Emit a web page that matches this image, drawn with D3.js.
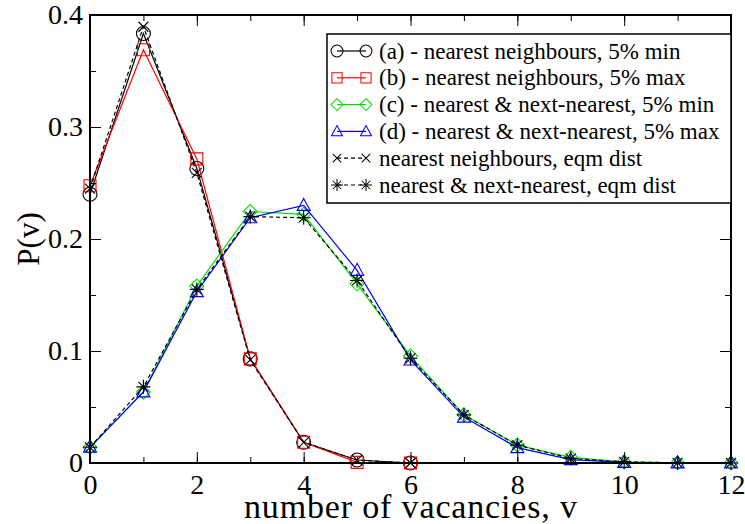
<!DOCTYPE html>
<html>
<head>
<script src="https://d3js.org/d3.v7.min.js"></script>
<style>
body { margin: 0; background: white; }
</style>
</head>
<body>
<svg id="chart" width="745" height="524"></svg>
<script>
// vacancy counts on the x axis
var vacNN = [0, 1, 2, 3, 4, 5, 6];
var vacNNN = [0, 1, 2, 3, 4, 5, 6, 7, 8, 9, 10, 11, 12];

// (a) nearest neighbours, 5% min
var seriesA = [0.240, 0.3835, 0.263, 0.093, 0.0185, 0.0027, 0.0];
// (b) nearest neighbours, 5% max
var seriesB = [0.2475, 0.369, 0.2715, 0.093, 0.0185, 0.0006, 0.0];
// (c) nearest & next-nearest, 5% min
var seriesC = [0.014, 0.0635, 0.158, 0.2245, 0.222, 0.160, 0.0955, 0.043, 0.016, 0.005, 0.001, 0.0002, 0.0];
// (d) nearest & next-nearest, 5% max
var seriesD = [0.014, 0.0635, 0.153, 0.219, 0.230, 0.172, 0.092, 0.041, 0.0137, 0.003, 0.0006, 0.0001, 0.0];
// equilibrium distributions
var eqmNN = [0.245, 0.3895, 0.259, 0.092, 0.0185, 0.0025, 0.0];
var eqmNNN = [0.014, 0.068, 0.155, 0.220, 0.219, 0.163, 0.0935, 0.043, 0.016, 0.004, 0.001, 0.0002, 0.0];

var xMajor = [0, 2, 4, 6, 8, 10, 12];
var yMajor = [0, 0.1, 0.2, 0.3, 0.4];

var legendLabels = [
  "(a) - nearest neighbours, 5% min",
  "(b) - nearest neighbours, 5% max",
  "(c) - nearest & next-nearest, 5% min",
  "(d) - nearest & next-nearest, 5% max",
  "nearest neighbours, eqm dist",
  "nearest & next-nearest, eqm dist"
];

var series = [
  {xs: vacNN, ys: seriesA, color: "#000", marker: "circle", dash: null},
  {xs: vacNN, ys: seriesB, color: "#ff0000", marker: "square", dash: null},
  {xs: vacNNN, ys: seriesC, color: "#00e000", marker: "diamond", dash: null},
  {xs: vacNNN, ys: seriesD, color: "#0000ff", marker: "triangle", dash: null},
  {xs: vacNN, ys: eqmNN, color: "#000", marker: "cross", dash: "4,3"},
  {xs: vacNNN, ys: eqmNNN, color: "#000", marker: "star", dash: "4,3"}
];

var serif = "'Liberation Serif', 'Times New Roman', serif";
var svg = d3.select("#chart");
var x = d3.scaleLinear().domain([0, 12]).range([90, 731]);
var y = d3.scaleLinear().domain([0, 0.4]).range([463, 15]);

// marker shapes, centred on 0,0
function markerPath(type) {
  var p = d3.path();
  if (type == "circle") { p.moveTo(7, 0); p.arc(0, 0, 7, 0, 2 * Math.PI); }
  else if (type == "square") { p.rect(-6, -6, 12, 12); }
  else if (type == "diamond") { p.moveTo(0, -7); p.lineTo(7, 0); p.lineTo(0, 7); p.lineTo(-7, 0); p.closePath(); }
  else if (type == "triangle") { p.moveTo(0, -7); p.lineTo(6.5, 5); p.lineTo(-6.5, 5); p.closePath(); }
  else if (type == "cross") { p.moveTo(-5, -5); p.lineTo(5, 5); p.moveTo(5, -5); p.lineTo(-5, 5); }
  else if (type == "star") {
    p.moveTo(-5, -5); p.lineTo(5, 5); p.moveTo(5, -5); p.lineTo(-5, 5);
    p.moveTo(0, -7); p.lineTo(0, 7); p.moveTo(-7, 0); p.lineTo(7, 0);
  }
  return p.toString();
}

// data curves
var line = d3.line();
series.forEach(function(s) {
  var pts = s.xs.map(function(v, i) { return [x(v), y(s.ys[i])]; });
  svg.append("path")
    .attr("d", line(pts))
    .attr("fill", "none")
    .attr("stroke", s.color)
    .attr("stroke-width", 1.2)
    .attr("stroke-dasharray", s.dash);
  svg.append("g").selectAll("path").data(pts).enter().append("path")
    .attr("transform", function(d) { return "translate(" + d[0] + "," + d[1] + ")"; })
    .attr("d", markerPath(s.marker))
    .attr("fill", "none")
    .attr("stroke", s.color)
    .attr("stroke-width", 1.1);
});

// axes: ticks point inward on all four sides
function styleAxis(g) {
  g.select(".domain").remove();
  g.selectAll(".tick line").attr("stroke", "#000").attr("stroke-width", 1);
  g.selectAll(".tick text").attr("fill", "#000")
    .attr("font-family", serif).attr("font-size", 28);
}
function tickOnly(g) {
  styleAxis(g);
  g.selectAll(".tick text").remove();
}

svg.append("g").attr("transform", "translate(0,463)")
  .call(d3.axisBottom(x).tickValues(xMajor).tickSize(-11).tickPadding(11).tickFormat(d3.format("d")))
  .call(styleAxis);
svg.append("g").attr("transform", "translate(0,463)")
  .call(d3.axisBottom(x).ticks(12).tickSize(-6))
  .call(tickOnly);
svg.append("g").attr("transform", "translate(0,15)")
  .call(d3.axisTop(x).tickValues(xMajor).tickSize(-11))
  .call(tickOnly);
svg.append("g").attr("transform", "translate(0,15)")
  .call(d3.axisTop(x).ticks(12).tickSize(-6))
  .call(tickOnly);

svg.append("g").attr("transform", "translate(90,0)")
  .call(d3.axisLeft(y).tickValues(yMajor).tickSize(-11).tickPadding(7).tickFormat(function(d) { return d == 0 ? "0" : d3.format(".1f")(d); }))
  .call(styleAxis);
svg.append("g").attr("transform", "translate(90,0)")
  .call(d3.axisLeft(y).ticks(8).tickSize(-6))
  .call(tickOnly);
svg.append("g").attr("transform", "translate(731,0)")
  .call(d3.axisRight(y).tickValues(yMajor).tickSize(-11))
  .call(tickOnly);
svg.append("g").attr("transform", "translate(731,0)")
  .call(d3.axisRight(y).ticks(8).tickSize(-6))
  .call(tickOnly);

// frame
svg.append("rect")
  .attr("x", x(0)).attr("y", y(0.4))
  .attr("width", x(12) - x(0)).attr("height", y(0) - y(0.4))
  .attr("fill", "none").attr("stroke", "#000").attr("stroke-width", 2);

// axis titles
svg.append("text")
  .attr("x", (x(0) + x(12)) / 2).attr("y", 518)
  .attr("text-anchor", "middle")
  .attr("font-family", serif).attr("font-size", 34)
  .attr("textLength", 333).attr("lengthAdjust", "spacing")
  .text("number of vacancies, v");
svg.append("text")
  .attr("transform", "translate(39," + y(0.2) + ") rotate(-90)")
  .attr("text-anchor", "middle")
  .attr("font-family", serif).attr("font-size", 31)
  .text("P(v)");

// legend
var legend = svg.append("g");
legend.append("rect")
  .attr("x", 327).attr("y", 34).attr("width", 404).attr("height", 169)
  .attr("fill", "white").attr("stroke", "#000").attr("stroke-width", 1.5);
series.forEach(function(s, i) {
  var ly = 51 + i * 26.8;
  legend.append("line")
    .attr("x1", 337).attr("x2", 366).attr("y1", ly).attr("y2", ly)
    .attr("stroke", s.color).attr("stroke-width", 1.2)
    .attr("stroke-dasharray", s.dash);
  [337, 366].forEach(function(mx) {
    legend.append("path")
      .attr("transform", "translate(" + mx + "," + ly + ") scale(0.85)")
      .attr("d", markerPath(s.marker))
      .attr("fill", "none").attr("stroke", s.color).attr("stroke-width", 1.2);
  });
  legend.append("text")
    .attr("x", 379).attr("y", ly + 7.5)
    .attr("font-family", serif).attr("font-size", 23)
    .text(legendLabels[i]);
});
</script>
</body>
</html>
